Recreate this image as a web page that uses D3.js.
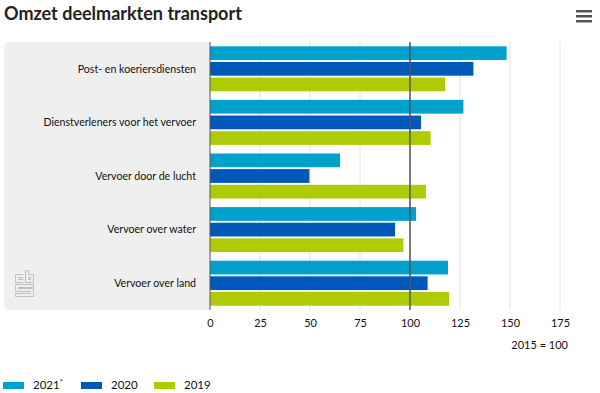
<!DOCTYPE html>
<html>
<head>
<meta charset="utf-8">
<script src="https://cdn.jsdelivr.net/npm/d3@7"></script>
<style>
body { margin: 0; background: #fff; font-family: Lato, "Noto Sans", sans-serif; }
.tick line { display: none; }
.domain { display: none; }
</style>
</head>
<body>
<div id="chart"></div>
<script>
const categories = ['Post- en koeriersdiensten', 'Dienstverleners voor het vervoer', 'Vervoer door de lucht', 'Vervoer over water', 'Vervoer over land']
const seriesNames = ['2021*', '2020', '2019']
const values2021 = [148.3, 126.7, 65, 103, 119]
const values2020 = [131.7, 105.5, 49.7, 92.5, 108.8]
const values2019 = [117.5, 110.3, 108, 96.7, 119.5]
const xTicks = [0, 25, 50, 75, 100, 125, 150, 175]
const colors = ['#00a1cd', '#0058b8', '#afcb05']

const width = 600, height = 393
const margin = {left: 210, right: 40, top: 42, bottom: 83}
const font = 'Lato, "Noto Sans", sans-serif'

const svg = d3.select('#chart').append('svg')
.attr('width', width)
.attr('height', height)
.style('font-family', font)

const series = [values2021, values2020, values2019]

const xScale = d3.scaleLinear()
.domain([0, 175])
.range([margin.left, width - margin.right])

const yScale = d3.scaleBand()
.domain(categories)
.range([margin.top, height - margin.bottom])
.paddingInner(0.16)
.paddingOuter(0.08)

const inner = d3.scaleBand()
.domain(seriesNames)
.range([0, yScale.bandwidth()])
.paddingInner(0.12)

// label panel
svg.append('rect')
.attr('x', 4).attr('y', margin.top)
.attr('width', margin.left - 4 + 6).attr('height', height - margin.bottom - margin.top)
.attr('rx', 5)
.attr('fill', '#efefef')
svg.append('rect')
.attr('x', margin.left).attr('y', margin.top)
.attr('width', 10).attr('height', height - margin.bottom - margin.top)
.attr('fill', '#fff')

// cbs logo
const logo = svg.append('g')
.attr('fill', 'none').attr('stroke', '#bbb').attr('stroke-width', 0.9)
logo.append('path').attr('d', 'M23.5,274.5 H15.5 V282.5 H23.5 M23.5,277.5 H18.5 V279.5 H23.5')
logo.append('path').attr('d', 'M25.5,270.5 V282.5 H33.5 V274.5 H28.5 V270.5 Z M28.5,277.5 H30.5 V279.5 H28.5 Z')
logo.append('path').attr('d', 'M33.5,284.5 H15.5 V291.5 H30.5 V293.5 H15.5 V296.5 H33.5 V288.5 H18.5 V287.5 H33.5 Z')

// title
svg.append('text')
.attr('x', 4).attr('y', 20)
.attr('font-size', 18).attr('font-weight', 'bold').attr('fill', '#222')
.text('Omzet deelmarkten transport')

// menu icon
const menu = svg.append('g')
;[10, 15, 20].forEach(y => {
	menu.append('rect').attr('x', 576).attr('y', y).attr('width', 16).attr('height', 2.5).attr('fill', '#555')
})

// grid
svg.append('g')
.selectAll('line')
.data(xTicks.filter(d => d > 0))
.join('line')
.attr('x1', d => xScale(d)).attr('x2', d => xScale(d))
.attr('y1', margin.top).attr('y2', height - margin.bottom)
.attr('stroke', '#e2e2e2')

// bars
const groups = svg.append('g')
.selectAll('g')
.data(categories)
.join('g')
.attr('transform', d => `translate(0,${yScale(d)})`)

groups.selectAll('rect')
.data((d, i) => seriesNames.map((s, j) => ({s, v: series[j][i], c: colors[j]})))
.join('rect')
.attr('x', xScale(0))
.attr('y', d => inner(d.s))
.attr('width', d => xScale(d.v) - xScale(0))
.attr('height', inner.bandwidth())
.attr('fill', d => d.c)

// zero and 100 lines
svg.append('line')
.attr('x1', xScale(0)).attr('x2', xScale(0))
.attr('y1', margin.top).attr('y2', height - margin.bottom)
.attr('stroke', '#555').attr('stroke-width', 1)
svg.append('line')
.attr('x1', xScale(100)).attr('x2', xScale(100))
.attr('y1', margin.top).attr('y2', height - margin.bottom)
.attr('stroke', '#555').attr('stroke-width', 1.5)

// category labels
svg.append('g')
.selectAll('text')
.data(categories)
.join('text')
.attr('x', margin.left - 14)
.attr('y', d => yScale(d) + yScale.bandwidth() / 2)
.attr('dy', '0.35em')
.attr('text-anchor', 'end')
.attr('font-size', 10.6)
.attr('fill', '#111')
.text(d => d)

// x axis
const xaxis = svg.append('g')
.attr('transform', `translate(0,${height - margin.bottom + 6})`)
.call(d3.axisBottom(xScale).tickValues(xTicks).tickSize(0))
xaxis.selectAll('text')
.attr('font-size', 11).attr('font-family', font).attr('fill', '#111')

svg.append('text')
.attr('x', 568).attr('y', 349)
.attr('text-anchor', 'end')
.attr('font-size', 11).attr('fill', '#111')
.text('2015 = 100')

// legend
const legend = svg.append('g')
.selectAll('g')
.data(seriesNames)
.join('g')
.attr('transform', (d, i) => `translate(${[3, 81, 154][i]},382)`)
legend.append('rect')
.attr('width', 21).attr('height', 7)
.attr('fill', (d, i) => colors[i])
legend.append('text')
.attr('x', 30).attr('y', 7)
.attr('font-size', 11.5).attr('fill', '#111')
.text(d => d.replace('*', ''))
.append('tspan')
.attr('dy', -4).attr('font-size', 7)
.text(d => d.includes('*') ? '*' : '')
</script>
</body>
</html>
